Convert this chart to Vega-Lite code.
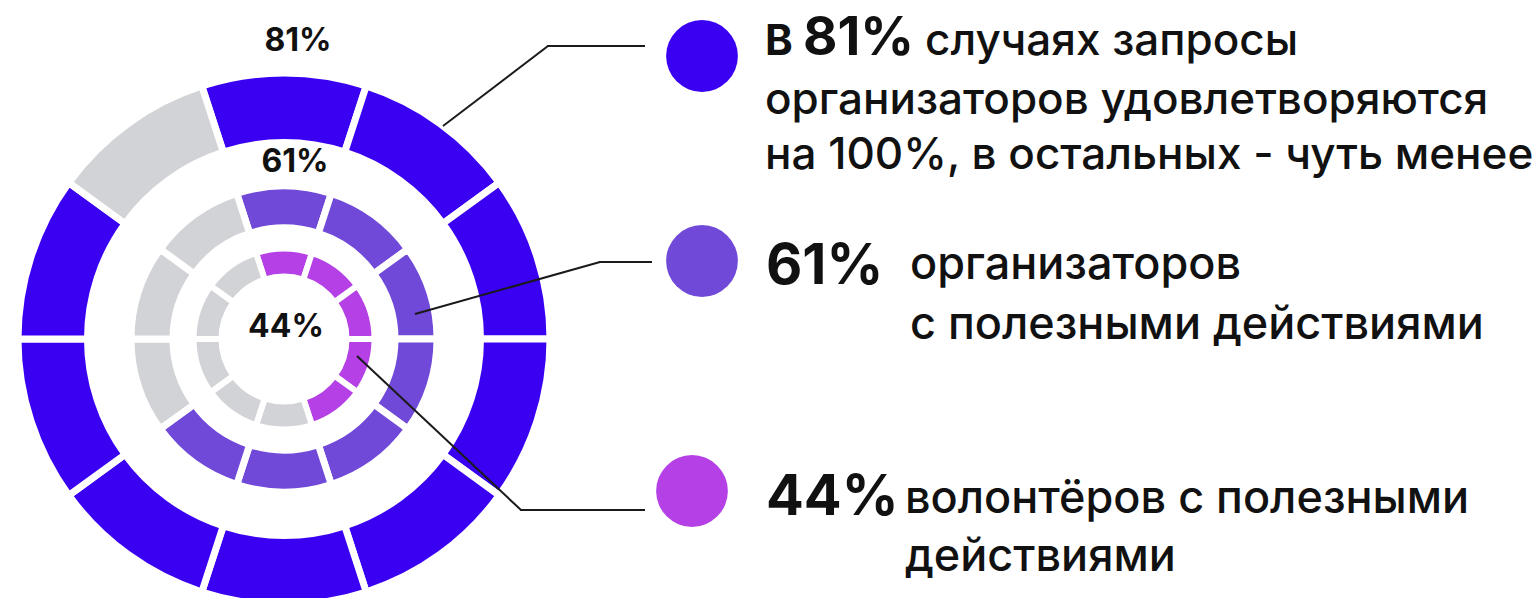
{
  "$schema": "https://vega.github.io/schema/vega-lite/v6.json",
  "width": 1533,
  "height": 598,
  "autosize": {"type": "none"},
  "padding": 0,
  "background": "white",
  "config": {"view": {"stroke": null}, "axis": {"disable": true}, "legend": {"disable": true}},
  "datasets": {
    "rings": [
      {"ring": "outer", "seg": 1, "pct": 10, "status": "hit"},
      {"ring": "outer", "seg": 2, "pct": 10, "status": "hit"},
      {"ring": "outer", "seg": 3, "pct": 10, "status": "hit"},
      {"ring": "outer", "seg": 4, "pct": 10, "status": "hit"},
      {"ring": "outer", "seg": 5, "pct": 10, "status": "hit"},
      {"ring": "outer", "seg": 6, "pct": 10, "status": "hit"},
      {"ring": "outer", "seg": 7, "pct": 10, "status": "hit"},
      {"ring": "outer", "seg": 8, "pct": 10, "status": "hit"},
      {"ring": "outer", "seg": 9, "pct": 10, "status": "hit"},
      {"ring": "outer", "seg": 10, "pct": 10, "status": "rest"},
      {"ring": "middle", "seg": 1, "pct": 10, "status": "hit"},
      {"ring": "middle", "seg": 2, "pct": 10, "status": "hit"},
      {"ring": "middle", "seg": 3, "pct": 10, "status": "hit"},
      {"ring": "middle", "seg": 4, "pct": 10, "status": "hit"},
      {"ring": "middle", "seg": 5, "pct": 10, "status": "hit"},
      {"ring": "middle", "seg": 6, "pct": 10, "status": "hit"},
      {"ring": "middle", "seg": 7, "pct": 10, "status": "hit"},
      {"ring": "middle", "seg": 8, "pct": 10, "status": "rest"},
      {"ring": "middle", "seg": 9, "pct": 10, "status": "rest"},
      {"ring": "middle", "seg": 10, "pct": 10, "status": "rest"},
      {"ring": "inner", "seg": 1, "pct": 10, "status": "hit"},
      {"ring": "inner", "seg": 2, "pct": 10, "status": "hit"},
      {"ring": "inner", "seg": 3, "pct": 10, "status": "hit"},
      {"ring": "inner", "seg": 4, "pct": 10, "status": "hit"},
      {"ring": "inner", "seg": 5, "pct": 10, "status": "hit"},
      {"ring": "inner", "seg": 6, "pct": 10, "status": "rest"},
      {"ring": "inner", "seg": 7, "pct": 10, "status": "rest"},
      {"ring": "inner", "seg": 8, "pct": 10, "status": "rest"},
      {"ring": "inner", "seg": 9, "pct": 10, "status": "rest"},
      {"ring": "inner", "seg": 10, "pct": 10, "status": "rest"}
    ],
    "legend": [
      {"item": "requests", "prefix": "В", "pct": "81%", "head": "случаях запросы", "body": ["организаторов удовлетворяются", "на 100%, в остальных - чуть менее"]},
      {"item": "organizers", "prefix": "", "pct": "61%", "head": "", "body": ["организаторов", "с полезными действиями"]},
      {"item": "volunteers", "prefix": "", "pct": "44%", "head": "", "body": ["волонтёров с полезными", "действиями"]}
    ]
  },
  "layer": [
    {
      "data": {"name": "rings"},
      "transform": [{"filter": "datum.ring === 'outer'"}],
      "mark": {"type": "arc", "radius": 266, "radius2": 196.5, "stroke": "white", "strokeWidth": 7},
      "encoding": {
        "x": {"datum": 284, "type": "quantitative", "scale": {"domain": [0, 1533], "nice": false, "zero": false}, "axis": null},
        "y": {"datum": 339, "type": "quantitative", "scale": {"domain": [598, 0], "nice": false, "zero": false}, "axis": null},
        "theta": {"field": "pct", "type": "quantitative", "stack": true, "scale": {"domain": [0, 100], "range": [-0.3141593, 5.969026]}},
        "order": {"field": "seg", "type": "quantitative"},
        "color": {"condition": {"test": "datum.status === 'rest'", "value": "#D1D3D6"}, "value": "#3A00F2"}
      }
    },
    {
      "data": {"name": "rings"},
      "transform": [{"filter": "datum.ring === 'middle'"}],
      "mark": {"type": "arc", "radius": 153, "radius2": 111, "stroke": "white", "strokeWidth": 7},
      "encoding": {
        "x": {"datum": 284, "type": "quantitative"},
        "y": {"datum": 339, "type": "quantitative"},
        "theta": {"field": "pct", "type": "quantitative", "stack": true},
        "order": {"field": "seg", "type": "quantitative"},
        "color": {"condition": {"test": "datum.status === 'rest'", "value": "#D1D3D6"}, "value": "#7049D8"}
      }
    },
    {
      "data": {"name": "rings"},
      "transform": [{"filter": "datum.ring === 'inner'"}],
      "mark": {"type": "arc", "radius": 90.5, "radius2": 62.5, "stroke": "white", "strokeWidth": 6},
      "encoding": {
        "x": {"datum": 284, "type": "quantitative"},
        "y": {"datum": 339, "type": "quantitative"},
        "theta": {"field": "pct", "type": "quantitative", "stack": true},
        "order": {"field": "seg", "type": "quantitative"},
        "color": {"condition": {"test": "datum.status === 'rest'", "value": "#D1D3D6"}, "value": "#B440E6"}
      }
    },
    {
      "data": {"name": "legend"},
      "transform": [{"filter": "datum.item === 'requests'"}],
      "mark": {"type": "text", "font": "Inter", "fontWeight": "bold", "fontSize": 32, "align": "center", "baseline": "middle", "color": "#111111"},
      "encoding": {"x": {"datum": 298, "type": "quantitative"}, "y": {"datum": 41, "type": "quantitative"}, "text": {"field": "pct", "type": "nominal"}}
    },
    {
      "data": {"name": "legend"},
      "transform": [{"filter": "datum.item === 'organizers'"}],
      "mark": {"type": "text", "font": "Inter", "fontWeight": "bold", "fontSize": 32, "align": "center", "baseline": "middle", "color": "#111111"},
      "encoding": {"x": {"datum": 295, "type": "quantitative"}, "y": {"datum": 162, "type": "quantitative"}, "text": {"field": "pct", "type": "nominal"}}
    },
    {
      "data": {"name": "legend"},
      "transform": [{"filter": "datum.item === 'volunteers'"}],
      "mark": {"type": "text", "font": "Inter", "fontWeight": "bold", "fontSize": 32, "align": "center", "baseline": "middle", "color": "#111111"},
      "encoding": {"x": {"datum": 286, "type": "quantitative"}, "y": {"datum": 327, "type": "quantitative"}, "text": {"field": "pct", "type": "nominal"}}
    },
    {
      "data": {"name": "legend"},
      "transform": [{"filter": "datum.item === 'requests'"}],
      "mark": {"type": "rule", "color": "#1a1a1a", "strokeWidth": 2},
      "encoding": {"x": {"datum": 443, "type": "quantitative"}, "y": {"datum": 126, "type": "quantitative"}, "x2": {"datum": 548}, "y2": {"datum": 46}}
    },
    {
      "data": {"name": "legend"},
      "transform": [{"filter": "datum.item === 'requests'"}],
      "mark": {"type": "rule", "color": "#1a1a1a", "strokeWidth": 2},
      "encoding": {"x": {"datum": 547, "type": "quantitative"}, "y": {"datum": 46, "type": "quantitative"}, "x2": {"datum": 645}, "y2": {"datum": 46}}
    },
    {
      "data": {"name": "legend"},
      "transform": [{"filter": "datum.item === 'organizers'"}],
      "mark": {"type": "rule", "color": "#1a1a1a", "strokeWidth": 2},
      "encoding": {"x": {"datum": 415, "type": "quantitative"}, "y": {"datum": 314, "type": "quantitative"}, "x2": {"datum": 600}, "y2": {"datum": 262}}
    },
    {
      "data": {"name": "legend"},
      "transform": [{"filter": "datum.item === 'organizers'"}],
      "mark": {"type": "rule", "color": "#1a1a1a", "strokeWidth": 2},
      "encoding": {"x": {"datum": 599, "type": "quantitative"}, "y": {"datum": 262, "type": "quantitative"}, "x2": {"datum": 652}, "y2": {"datum": 262}}
    },
    {
      "data": {"name": "legend"},
      "transform": [{"filter": "datum.item === 'volunteers'"}],
      "mark": {"type": "rule", "color": "#1a1a1a", "strokeWidth": 2},
      "encoding": {"x": {"datum": 357, "type": "quantitative"}, "y": {"datum": 356, "type": "quantitative"}, "x2": {"datum": 521}, "y2": {"datum": 510}}
    },
    {
      "data": {"name": "legend"},
      "transform": [{"filter": "datum.item === 'volunteers'"}],
      "mark": {"type": "rule", "color": "#1a1a1a", "strokeWidth": 2},
      "encoding": {"x": {"datum": 520, "type": "quantitative"}, "y": {"datum": 510, "type": "quantitative"}, "x2": {"datum": 645}, "y2": {"datum": 510}}
    },
    {
      "data": {"name": "legend"},
      "transform": [{"filter": "datum.item === 'requests'"}],
      "mark": {"type": "circle", "size": 5150, "opacity": 1, "color": "#3A00F2"},
      "encoding": {"x": {"datum": 702, "type": "quantitative"}, "y": {"datum": 56, "type": "quantitative"}}
    },
    {
      "data": {"name": "legend"},
      "transform": [{"filter": "datum.item === 'organizers'"}],
      "mark": {"type": "circle", "size": 5150, "opacity": 1, "color": "#7049D8"},
      "encoding": {"x": {"datum": 702, "type": "quantitative"}, "y": {"datum": 261, "type": "quantitative"}}
    },
    {
      "data": {"name": "legend"},
      "transform": [{"filter": "datum.item === 'volunteers'"}],
      "mark": {"type": "circle", "size": 5150, "opacity": 1, "color": "#B440E6"},
      "encoding": {"x": {"datum": 692, "type": "quantitative"}, "y": {"datum": 491, "type": "quantitative"}}
    },
    {
      "data": {"name": "legend"},
      "transform": [{"filter": "datum.item === 'requests'"}],
      "mark": {"type": "text", "font": "Inter", "fontWeight": "bold", "fontSize": 42, "align": "left", "baseline": "alphabetic", "color": "#111111"},
      "encoding": {"x": {"datum": 765, "type": "quantitative"}, "y": {"datum": 55, "type": "quantitative"}, "text": {"field": "prefix", "type": "nominal"}}
    },
    {
      "data": {"name": "legend"},
      "transform": [{"filter": "datum.item === 'requests'"}],
      "mark": {"type": "text", "font": "Inter", "fontWeight": "bold", "fontSize": 53, "align": "left", "baseline": "alphabetic", "color": "#111111"},
      "encoding": {"x": {"datum": 803, "type": "quantitative"}, "y": {"datum": 55, "type": "quantitative"}, "text": {"field": "pct", "type": "nominal"}}
    },
    {
      "data": {"name": "legend"},
      "transform": [{"filter": "datum.item === 'requests'"}],
      "mark": {"type": "text", "font": "Inter", "fontWeight": 500, "fontSize": 44, "align": "left", "baseline": "alphabetic", "color": "#111111"},
      "encoding": {"x": {"datum": 925, "type": "quantitative"}, "y": {"datum": 55, "type": "quantitative"}, "text": {"field": "head", "type": "nominal"}}
    },
    {
      "data": {"name": "legend"},
      "transform": [{"filter": "datum.item === 'requests'"}],
      "mark": {"type": "text", "font": "Inter", "fontWeight": 500, "fontSize": 44, "align": "left", "baseline": "alphabetic", "lineHeight": 55, "color": "#111111"},
      "encoding": {"x": {"datum": 765, "type": "quantitative"}, "y": {"datum": 114, "type": "quantitative"}, "text": {"field": "body", "type": "nominal"}}
    },
    {
      "data": {"name": "legend"},
      "transform": [{"filter": "datum.item === 'organizers'"}],
      "mark": {"type": "text", "font": "Inter", "fontWeight": "bold", "fontSize": 56, "align": "left", "baseline": "alphabetic", "color": "#111111"},
      "encoding": {"x": {"datum": 766, "type": "quantitative"}, "y": {"datum": 284, "type": "quantitative"}, "text": {"field": "pct", "type": "nominal"}}
    },
    {
      "data": {"name": "legend"},
      "transform": [{"filter": "datum.item === 'organizers'"}],
      "mark": {"type": "text", "font": "Inter", "fontWeight": 500, "fontSize": 45, "align": "left", "baseline": "alphabetic", "lineHeight": 60, "color": "#111111"},
      "encoding": {"x": {"datum": 910, "type": "quantitative"}, "y": {"datum": 279, "type": "quantitative"}, "text": {"field": "body", "type": "nominal"}}
    },
    {
      "data": {"name": "legend"},
      "transform": [{"filter": "datum.item === 'volunteers'"}],
      "mark": {"type": "text", "font": "Inter", "fontWeight": "bold", "fontSize": 56, "align": "left", "baseline": "alphabetic", "color": "#111111"},
      "encoding": {"x": {"datum": 766, "type": "quantitative"}, "y": {"datum": 515, "type": "quantitative"}, "text": {"field": "pct", "type": "nominal"}}
    },
    {
      "data": {"name": "legend"},
      "transform": [{"filter": "datum.item === 'volunteers'"}],
      "mark": {"type": "text", "font": "Inter", "fontWeight": 500, "fontSize": 45, "align": "left", "baseline": "alphabetic", "lineHeight": 58, "color": "#111111"},
      "encoding": {"x": {"datum": 905, "type": "quantitative"}, "y": {"datum": 513, "type": "quantitative"}, "text": {"field": "body", "type": "nominal"}}
    }
  ]
}
